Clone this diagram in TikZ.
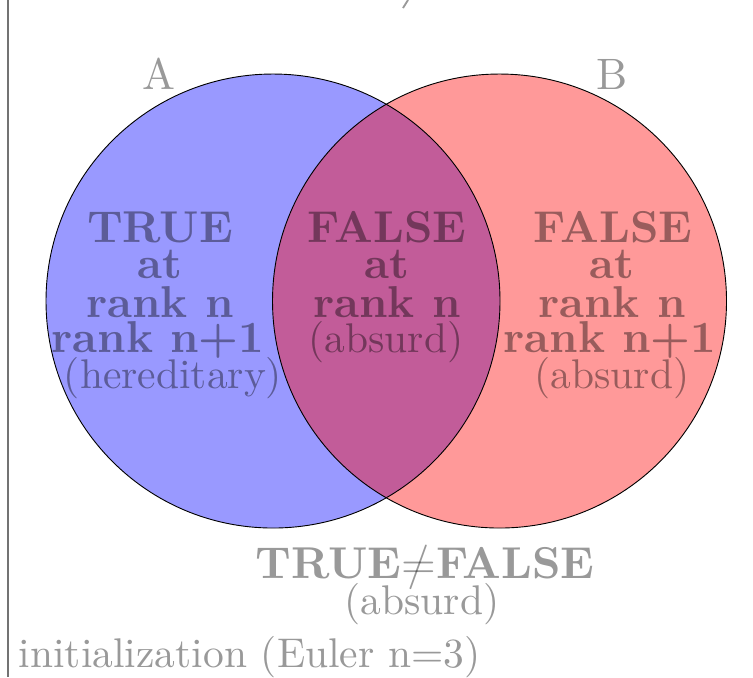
\documentclass[tikz,border=0pt]{standalone}
\newcommand\myneq{{\fontseries{m}\selectfont\ooalign{=\cr\hidewidth/\hidewidth\cr}}}
\begin{document}
\begin{tikzpicture}[x=0.241pt,y=-0.241pt,
  lbl/.style={text=black, text opacity=0.4, inner sep=0, anchor=base},
  bftext/.style={lbl, font=\fontsize{10.75}{9}\selectfont\bfseries},
  rmtext/.style={lbl, font=\fontsize{10}{9}\selectfont},
  setlbl/.style={lbl, font=\fontsize{10.6}{10.6}\selectfont},
  outline/.style={draw=black, line width=0.22pt},
  frameline/.style={draw=black!55, line width=0.36pt}
]
\useasboundingbox (0,0) rectangle (753,677);
\coordinate (cA) at (273,301);
\coordinate (cB) at (499.5,301);
\fill[blue, fill opacity=0.4] (cA) circle[radius=227];
\fill[red, fill opacity=0.4] (cB) circle[radius=227];
\draw[outline] (cA) circle[radius=227];
\draw[outline] (cB) circle[radius=227];

\coordinate (lt) at (8,0);
\coordinate (lb) at (8,677);
\draw[frameline] (lt) -- (lb);
\coordinate (s1) at (403,8);
\coordinate (s2) at (408,0);
\draw[draw=black!40, line width=0.45pt] (s1) -- (s2);

\node[setlbl] (la) at (159,89) {A};
\node[setlbl] (lbB) at (612,89) {B};

\node[bftext] (a1) at (160,242) {TRUE};
\node[bftext] (a2) at (160,278) {at};
\node[bftext] (a3) at (160,317) {rank n};
\node[bftext] (a4) at (158,352) {rank n+1};
\node[rmtext] (a5) at (173,388) {(hereditary)};

\node[bftext] (m1) at (387,242) {FALSE};
\node[bftext] (m2) at (387,278) {at};
\node[bftext] (m3) at (387,317) {rank n};
\node[rmtext] (m4) at (386,352) {(absurd)};

\node[bftext] (b1) at (613,242) {FALSE};
\node[bftext] (b2) at (612,278) {at};
\node[bftext] (b3) at (612,317) {rank n};
\node[bftext] (b4) at (610,352) {rank n+1};
\node[rmtext] (b5) at (612,388) {(absurd)};

\node[bftext] (ne) at (425,578) {TRUE\myneq FALSE};
\node[rmtext] (ab) at (422,614) {(absurd)};
\node[rmtext, anchor=base west] (init) at (18,667) {initialization (Euler n=3)};
\end{tikzpicture}
\end{document}
